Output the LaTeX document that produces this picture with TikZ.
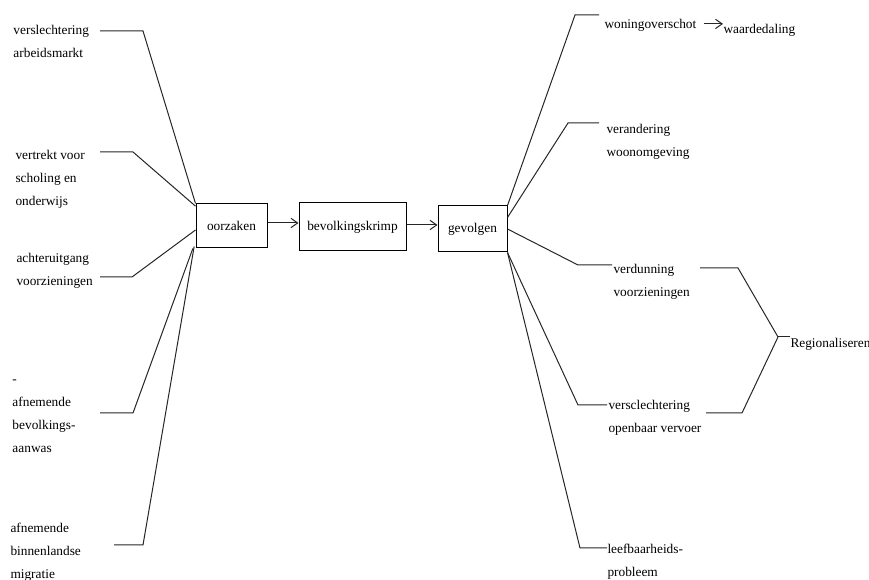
\documentclass[tikz,border=0pt]{standalone}
\usepackage{fontspec}
\setmainfont{Liberation Serif}
\usetikzlibrary{arrows.meta}
\begin{document}
\begin{tikzpicture}[x=0.75pt,y=-0.75pt, line width=0.75pt,
  lbl/.style={anchor=north west, align=left, inner sep=0pt, yshift=12.075pt,
    font=\fontsize{10}{17.25}\selectfont, execute at begin node=\strut},
  lblm/.style={lbl, yshift=-5.25pt},
  box/.style={draw, inner sep=0pt, font=\fontsize{10}{12}\selectfont},
  con/.style={draw=black!85},
  arr/.style={draw=black!85, -{Straight Barb[length=5pt,width=7pt]}}]
\useasboundingbox (0,0) rectangle (869,580);

% boxes
\node[box, minimum width=53.25pt, minimum height=33pt] (oor) at (231.5,226) {oorzaken};
\node[box, minimum width=80.25pt, minimum height=36pt] (bev) at (352.5,227) {bevolkingskrimp};
\node[box, minimum width=51.75pt, minimum height=34.5pt] (gev) at (472.5,229) {gevolgen};

\draw[arr] ([yshift=2.25pt]oor.east) -- ([yshift=2.25pt]oor.east -| bev.west);
\draw[arr] ([yshift=1.5pt]bev.east) -- ([yshift=1.5pt]bev.east -| gev.west);

% left labels
\node[lblm] (l1) at (13,34) {verslechtering\\arbeidsmarkt};
\node[lblm] (l2) at (15,159) {vertrekt voor\\scholing en\\onderwijs};
\node[lblm] (l3) at (16,262) {achteruitgang\\voorzieningen};
\node[lblm] (l4) at (12,388) {-\\afnemende\\bevolkings-\\aanwas};
\node[lblm] (l5) at (10,532) {afnemende\\binnenlandse\\migratie};

\coordinate (a1) at (100,31);  \coordinate (b1) at (143,31);
\coordinate (a2) at (100,152); \coordinate (b2) at (133,152);
\coordinate (a3) at (100,277); \coordinate (b3) at (132,277);
\coordinate (a4) at (100,413); \coordinate (b4) at (133,413);
\coordinate (a5) at (114,545); \coordinate (b5) at (143,545);
\draw[con] (a1) -- (b1) -- (oor.north west);
\draw[con] (a2) -- (b2) -- ([yshift=-2pt]oor.north west);
\draw[con] (a3) -- (b3) -- ([yshift=-3pt]oor.west);
\draw[con] (a4) -- (b4) -- ([xshift=-2pt]oor.south west);
\draw[con] (a5) -- (b5) -- ([xshift=-1pt,yshift=1.5pt]oor.south west);

% right labels
\node[lbl] (r1) at (604,28) {woningoverschot};
\node[lbl] (r1b) at (723,33) {waardedaling};
\node[lblm] (r2) at (606,133) {verandering\\woonomgeving};
\node[lblm] (r3) at (613,273) {verdunning\\voorzieningen};
\node[lblm] (r4) at (608,409) {versclechtering\\openbaar vervoer};
\node[lblm] (r5) at (607,553) {leefbaarheids-\\probleem};
\node[lbl] (reg) at (790,347) {Regionaliseren};

\draw[arr] ([xshift=5pt]r1.east) -- (r1.east -| r1b.west);

\coordinate (c1) at (599,15);  \coordinate (d1) at (575,15);
\coordinate (c2) at (599,123); \coordinate (d2) at (568,123);
\coordinate (d3) at (578,265); \coordinate (c3) at (612,265);
\coordinate (c4) at (607,405); \coordinate (d4) at (578,405);
\coordinate (c5) at (607,548); \coordinate (d5) at (580,548);
\draw[con] (c1) -- (d1) -- (gev.north east);
\draw[con] (c2) -- (d2) -- ([yshift=-9pt]gev.north east);
\draw[con] (gev.east) -- (d3) -- (c3);
\draw[con] (c4) -- (d4) -- (gev.south east);
\draw[con] (c5) -- (d5) -- (gev.south east);

% Regionaliseren bracket
\coordinate (g1) at (700,268); \coordinate (h1) at (738,268);
\coordinate (g2) at (706,413); \coordinate (h2) at (742,413);
\coordinate (rj) at (778,337);
\draw[con] (g1) -- (h1) -- (rj);
\draw[con] (g2) -- (h2) -- (rj);
\draw[con] (rj) -- (rj -| reg.west);
\end{tikzpicture}
\end{document}
